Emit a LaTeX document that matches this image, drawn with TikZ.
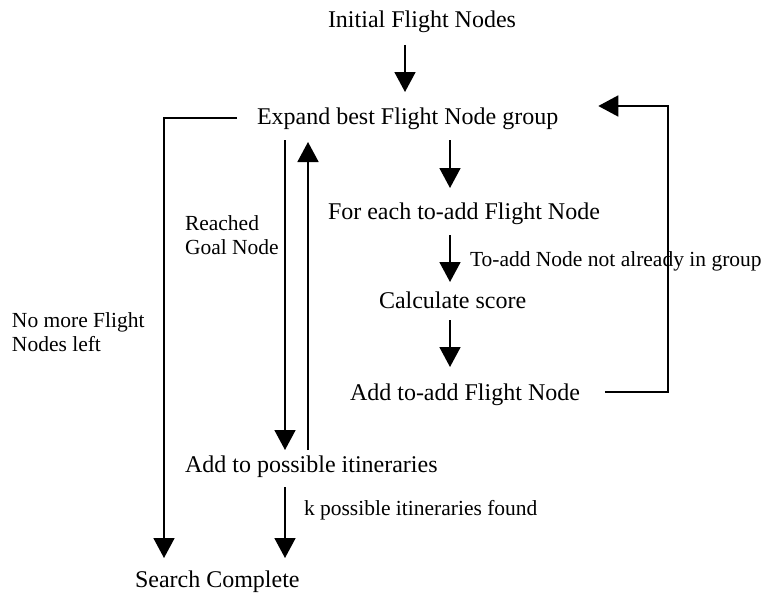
\documentclass[tikz,border=0pt]{standalone}
\usepackage{fontspec}
\setmainfont{Liberation Serif}
\usetikzlibrary{arrows.meta}

\tikzset{
  step text/.style={anchor=base west, inner sep=0pt, outer sep=0pt,
    font=\fontsize{24pt}{28pt}\selectfont, text height=17pt, text depth=5pt},
  note/.style={anchor=base west, inner sep=0pt, outer sep=0pt,
    font=\fontsize{21.5pt}{24pt}\selectfont},
  note2/.style={anchor=north west, inner sep=0pt, outer sep=0pt, align=left,
    font=\fontsize{21.5pt}{24pt}\selectfont},
  flow/.style={line width=1.7pt, -{Triangle[width=21pt,length=20pt]}},
}

\begin{document}
\begin{tikzpicture}[x=1pt,y=-1pt]
\useasboundingbox (0,0) rectangle (765,594);

% vertical lanes used by the connectors
\coordinate (lane1) at (164,0);
\coordinate (lane2) at (285,0);
\coordinate (lane3) at (308,0);
\coordinate (lane4) at (405,0);
\coordinate (lane5) at (450,0);
\coordinate (lane6) at (668,0);

% process steps
\node[step text] (init)    at (328,28)  {Initial Flight Nodes};
\node[step text] (expand)  at (257,124) {Expand best Flight Node group};
\node[step text] (foreach) at (328,219) {For each to-add Flight Node};
\node[step text] (calc)    at (379,308) {Calculate score};
\node[step text] (addnode) at (350,400) {Add to-add Flight Node};
\node[step text] (itin)    at (185,472) {Add to possible itineraries};
\node[step text] (done)    at (135,587) {Search Complete};

% edge labels
\node[note2] (lgoal) at (185,216) {Reached\\Goal Node};
\node[note2] (lleft) at (12,313) {No more Flight\\Nodes left};
\node[note] (lnot) at (470,266) {To-add Node not already in group};
\node[note] (lk) at (304,515) {k possible itineraries found};

% main column
\draw[flow, shorten <=12pt, shorten >=15pt] (init.south -| lane4) -- (expand.north -| lane4);
\draw[flow, shorten <=11pt, shorten >=14pt] (expand.south -| lane5) -- (foreach.north -| lane5);
\draw[flow, shorten <=11pt, shorten >=9pt] (foreach.south -| lane5) -- (calc.north -| lane5);
\draw[flow, shorten <=7pt, shorten >=16pt] (calc.south -| lane5) -- (addnode.north -| lane5);

% loop back from adding a node to expanding the group
\draw[flow] ([xshift=25pt,yshift=2pt]addnode.east) -- ([yshift=2pt]addnode.east -| lane6)
  |- ([shift={(40pt,12pt)}]expand.east);

% goal reached and return
\draw[flow, shorten <=11pt, shorten >=5pt] (expand.south -| lane2) -- (itin.north -| lane2);
\draw[flow, shorten <=5pt, shorten >=13pt] (itin.north -| lane3) -- (expand.south -| lane3);

% finishing paths
\draw[flow, shorten <=10pt, shorten >=12pt] (itin.south -| lane2) -- (done.north -| lane2);
\draw[flow, shorten <=20pt, shorten >=12pt] (expand.west) -| (done.north -| lane1);
\end{tikzpicture}
\end{document}
